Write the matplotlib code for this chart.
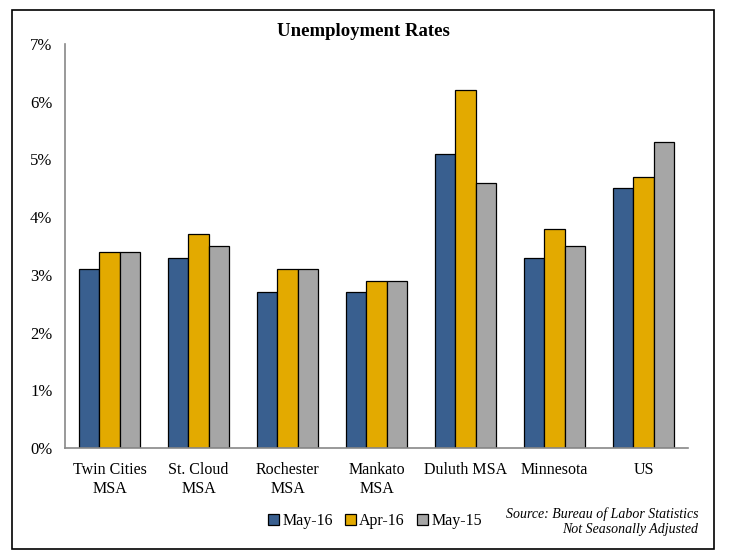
import numpy as np
import matplotlib.pyplot as plt
from matplotlib.patches import Rectangle

plt.rcParams['font.family'] = ['Liberation Serif', 'DejaVu Serif']

regions = ['Twin Cities\nMSA', 'St. Cloud\nMSA', 'Rochester\nMSA', 'Mankato\nMSA',
           'Duluth MSA', 'Minnesota', 'US']
may16 = [3.1, 3.3, 2.7, 2.7, 5.1, 3.3, 4.5]
apr16 = [3.4, 3.7, 3.1, 2.9, 6.2, 3.8, 4.7]
may15 = [3.4, 3.5, 3.1, 2.9, 4.6, 3.5, 5.3]
series = ['May-16', 'Apr-16', 'May-15']
colors = ['#395F8F', '#E3AA00', '#A6A6A6']

fig = plt.figure(figsize=(7.29, 5.58), dpi=100)
ax = fig.add_axes([65 / 729, 1 - 448 / 558, (688 - 65) / 729, (448 - 44) / 558])

x = np.arange(len(regions))
w = 0.225
for i, (vals, lab, c) in enumerate(zip([may16, apr16, may15], series, colors)):
    ax.bar(x + (i - 1) * w, vals, w, color=c, edgecolor='black', linewidth=0.9, label=lab)

ax.set_xlim(-0.5, len(regions) - 0.5)
ax.set_ylim(0, 7)
ax.set_yticks(range(8))
ax.set_yticklabels([f'{v}%' for v in range(8)], fontsize=12)
ax.set_xticks(x)
ax.set_xticklabels(regions, fontsize=11.5, linespacing=1.3)
ax.tick_params(axis='x', length=0, pad=10)
ax.tick_params(axis='y', length=0, pad=9)
for s in ['top', 'right']:
    ax.spines[s].set_visible(False)
for s in ['left', 'bottom']:
    ax.spines[s].set_color('#888888')
    ax.spines[s].set_linewidth(1.2)

fig.text(363 / 729, 1 - 31 / 558, 'Unemployment Rates', ha='center', va='center',
         fontsize=13.5, fontweight='bold')

ax.legend(loc='center', bbox_to_anchor=(375 / 729, 1 - 521 / 558), bbox_transform=fig.transFigure,
          ncol=3, frameon=False, fontsize=11.5, handlelength=0.7, handleheight=0.7,
          handletextpad=0.2, columnspacing=0.75)

fig.text(698 / 729, 1 - 514 / 558, 'Source: Bureau of Labor Statistics', ha='right', va='center',
         fontsize=10, style='italic')
fig.text(698 / 729, 1 - 530 / 558, 'Not Seasonally Adjusted', ha='right', va='center',
         fontsize=10, style='italic')

fig.patches.append(Rectangle((12 / 729, 1 - 549 / 558), (714 - 12) / 729, (549 - 10) / 558,
                             transform=fig.transFigure, fill=False, edgecolor='black', linewidth=1.2))

fig.savefig('out.png', dpi=100)
